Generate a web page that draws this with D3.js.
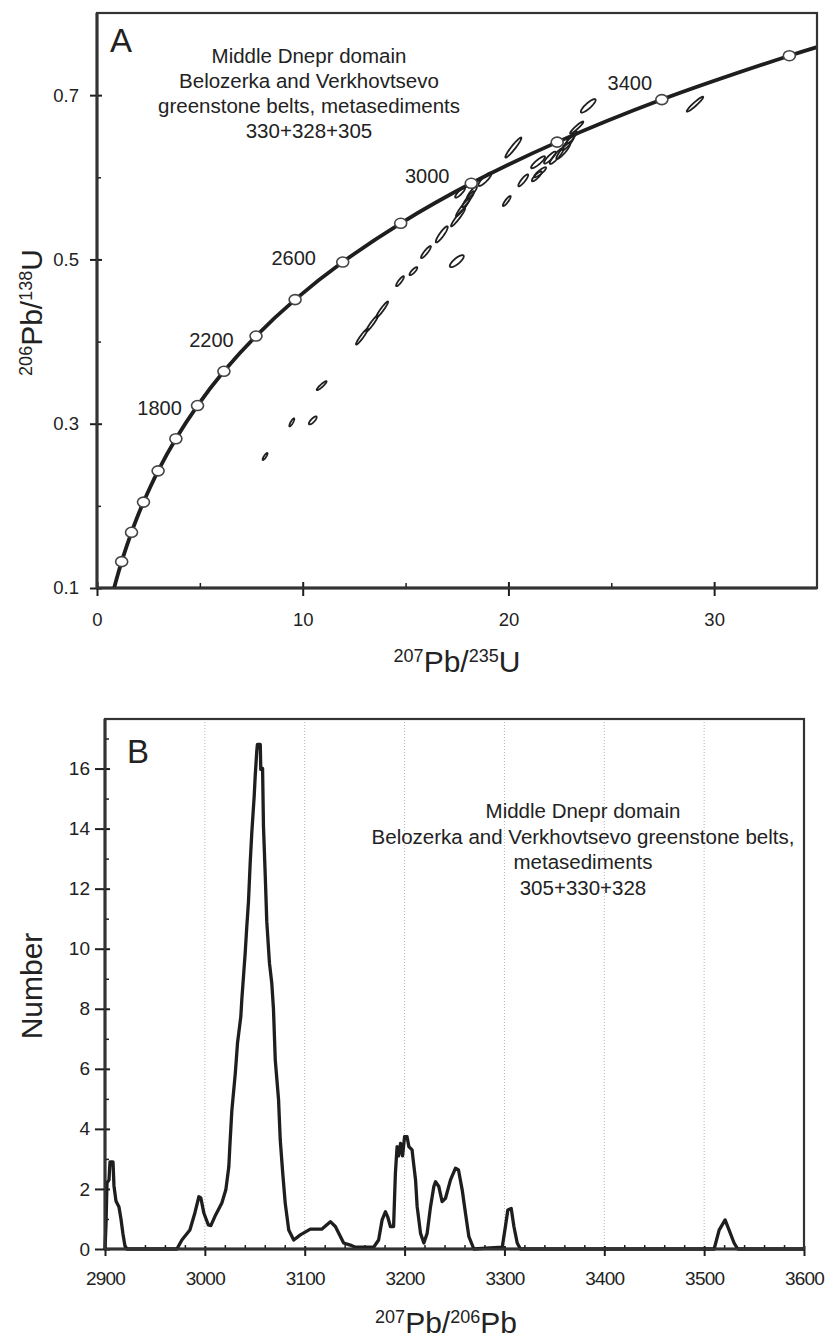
<!DOCTYPE html>
<html><head><meta charset="utf-8">
<script src="https://cdn.jsdelivr.net/npm/d3@7"></script>
<style>
body{margin:0;background:#fff}
svg{display:block}
text{font-family:"Liberation Sans",Arial,Helvetica,sans-serif;fill:#222}
</style>
</head><body>
<svg id="chart" width="828" height="1338"></svg>
<script>
// ---------- Panel A data: concordia ----------
const concordiaAge = [614, 700, 800, 900, 1000, 1100, 1200, 1400, 1600, 1800, 2000, 2200, 2400, 2600, 2800, 3000, 3200, 3400, 3600, 3639];
const concordiaX = [0.831, 0.9928, 1.1987, 1.4264, 1.6774, 1.9545, 2.2603, 2.9701, 3.8344, 4.8869, 6.1688, 7.7298, 9.6305, 11.9446, 14.7626, 18.1930, 22.3706, 27.4560, 33.6560, 35.0];
const concordiaY = [0.1000, 0.1147, 0.1321, 0.1498, 0.1678, 0.1861, 0.2046, 0.2426, 0.2817, 0.3221, 0.3638, 0.4067, 0.4511, 0.4968, 0.5440, 0.5927, 0.6428, 0.6946, 0.7480, 0.7585];
const markerAges = [800, 1000, 1200, 1400, 1600, 1800, 2000, 2200, 2400, 2600, 2800, 3000, 3200, 3400, 3600];
const labelAges = [1800, 2200, 2600, 3000, 3400];

// ---------- Panel A data: analysis error ellipses ----------
const ellX   = [8.17, 9.47, 10.49, 10.92, 12.88, 13.37, 13.86, 14.73, 15.38, 15.99, 16.76, 17.49, 17.55, 17.79, 18.04, 18.23, 17.65, 18.86, 19.92, 20.72, 20.24, 21.44, 21.54, 21.38, 22.02, 22.35, 22.67, 22.90, 23.08, 23.32, 23.88, 29.07];
const ellY   = [0.2601, 0.3016, 0.3040, 0.3463, 0.4061, 0.4220, 0.4390, 0.4735, 0.4857, 0.5089, 0.5305, 0.4979, 0.5512, 0.5634, 0.5732, 0.5817, 0.5813, 0.5976, 0.5711, 0.5963, 0.6362, 0.6183, 0.6061, 0.6012, 0.6240, 0.6260, 0.6321, 0.6415, 0.6488, 0.6606, 0.6870, 0.6890];
const ellSx  = [0.12, 0.12, 0.19, 0.24, 0.29, 0.29, 0.29, 0.19, 0.19, 0.24, 0.29, 0.34, 0.34, 0.34, 0.29, 0.24, 0.24, 0.32, 0.19, 0.24, 0.39, 0.34, 0.29, 0.24, 0.29, 0.34, 0.34, 0.29, 0.24, 0.32, 0.36, 0.40];
const ellSy  = [0.0043, 0.0049, 0.0049, 0.0055, 0.0098, 0.0098, 0.0098, 0.0061, 0.0049, 0.0073, 0.0098, 0.0073, 0.0110, 0.0110, 0.0098, 0.0073, 0.0061, 0.0082, 0.0061, 0.0073, 0.0122, 0.0073, 0.0061, 0.0061, 0.0073, 0.0098, 0.0098, 0.0085, 0.0073, 0.0073, 0.0082, 0.0091];
const ellRho = [0.85, 0.85, 0.80, 0.92, 0.95, 0.95, 0.95, 0.88, 0.84, 0.90, 0.90, 0.80, 0.95, 0.95, 0.93, 0.90, 0.86, 0.86, 0.88, 0.88, 0.95, 0.88, 0.88, 0.86, 0.88, 0.90, 0.90, 0.90, 0.88, 0.94, 0.86, 0.95];

const axisAxTicks = [0, 10, 20, 30];
const axisAxMinor = [5, 15, 25];
const axisAyTicks = [0.1, 0.3, 0.5, 0.7];
const axisAyMinor = [0.2, 0.4, 0.6];
const annotA = ["Middle Dnepr domain", "Belozerka and Verkhovtsevo", "greenstone belts, metasediments", "330+328+305"];

// ---------- Panel B data: probability density ----------
const ageB = [2900, 2901, 2902, 2904, 2905, 2908, 2909, 2911, 2914, 2916, 2918, 2920, 2922,
  2972, 2977, 2985, 2990, 2994, 2996, 2999, 3003.5, 3006, 3010, 3017, 3021, 3024, 3025, 3027, 3030.5, 3032.7, 3036, 3037,
  3040.4, 3042, 3043.7, 3045.4, 3047, 3049.4, 3050.4, 3052, 3052.6, 3055.5, 3056, 3057.8, 3058.7, 3060.5, 3062, 3064.7, 3067, 3068.7,
  3070.5, 3073.8, 3075.5, 3078, 3080.5, 3084, 3089, 3095.6, 3105.6, 3117, 3125.7, 3130.7, 3139, 3145.7, 3150.8, 3169,
  3174, 3177.5, 3180.8, 3183, 3185.8, 3189, 3190.8, 3192.5, 3194, 3196, 3198, 3200, 3202.5, 3204.3, 3207.5, 3209, 3211, 3212.6,
  3216, 3219.3, 3222.6, 3226, 3229.3, 3231, 3234.3, 3237.6, 3241, 3246, 3251, 3254, 3257.7, 3261, 3264.4, 3269.4,
  3297.8, 3301, 3303.4, 3306.8, 3309.5, 3312.8, 3316,
  3510, 3515, 3521, 3525, 3530, 3533.6, 3600];
const countB = [0, 0.8, 2.2, 2.3, 2.9, 2.9, 2.1, 1.6, 1.4, 1.0, 0.5, 0.1, 0,
  0, 0.3, 0.63, 1.2, 1.74, 1.7, 1.2, 0.8, 0.78, 1.08, 1.53, 1.97, 2.74, 3.41, 4.6, 5.86, 6.86, 7.74, 8.3,
  9.86, 10.74, 11.58, 12.86, 13.86, 15.08, 15.74, 16.58, 16.8, 16.8, 15.97, 16.0, 14.08, 12.41, 10.91, 9.52, 8.86, 8.0,
  6.3, 4.97, 3.63, 2.52, 1.52, 0.63, 0.3, 0.47, 0.66, 0.66, 0.91, 0.75, 0.2, 0.13, 0.06, 0.06,
  0.3, 0.97, 1.24, 1.08, 0.75, 0.75, 2.52, 3.41, 3.1, 3.52, 3.1, 3.74, 3.74, 3.41, 3.3, 2.86, 2.3, 1.41,
  0.52, 0.2, 0.52, 1.41, 2.08, 2.24, 2.08, 1.58, 1.69, 2.3, 2.69, 2.63, 1.97, 1.19, 0.41, 0,
  0.06, 0.75, 1.3, 1.35, 0.75, 0.2, 0,
  0, 0.63, 0.97, 0.63, 0.2, 0, 0];
const axisBxTicks = [2900, 3000, 3100, 3200, 3300, 3400, 3500, 3600];
const axisBxMinor = d3.range(2920, 3600, 20).filter(v => v % 100 !== 0);
const axisByTicks = [0, 2, 4, 6, 8, 10, 12, 14, 16];
const axisByMinor = [1, 3, 5, 7, 9, 11, 13, 15, 17];
const gridB = [3000, 3100, 3200, 3300, 3400, 3500];
const annotB = ["Middle Dnepr domain", "Belozerka and Verkhovtsevo greenstone belts,", "metasediments", "305+330+328"];

// ---------- layout ----------
const svg = d3.select("#chart");
const INK = "#1e1e1e";
const A = {l: 97, r: 817, t: 13, b: 588};
const B = {l: 105, r: 804, t: 719, b: 1249};
const xA = d3.scaleLinear().domain([0, 35]).range([A.l, A.r]);
const yA = d3.scaleLinear().domain([0.1, 0.8]).range([A.b, A.t]);
const xB = d3.scaleLinear().domain([2900, 3600]).range([B.l, B.r]);
const yB = d3.scaleLinear().domain([0, 17.65]).range([B.b, B.t]);

function frame(P) {
  svg.append("rect").attr("x", P.l).attr("y", P.t).attr("width", P.r - P.l).attr("height", P.b - P.t)
    .attr("fill", "none").attr("stroke", "#333").attr("stroke-width", 2.2);
}

function supText(t, parts, big, small, rise) {
  let prevSup = false;
  parts.forEach(([s, sup]) => {
    const ts = t.append("tspan").text(s).attr("font-size", sup ? small : big);
    if (sup && !prevSup) ts.attr("dy", -rise);
    if (!sup && prevSup) ts.attr("dy", rise);
    prevSup = sup;
  });
}

// ================= Panel A =================
const gA = svg.append("g");
frame(A);

const axAx = gA.append("g").attr("transform", `translate(0,${A.b})`)
  .call(d3.axisBottom(xA).tickValues(axisAxTicks).tickSize(8).tickPadding(17).tickFormat(d3.format("d")));
axAx.selectAll("line").attr("y1", -6).attr("stroke", INK).attr("stroke-width", 2);
const axAxm = gA.append("g").attr("transform", `translate(0,${A.b})`)
  .call(d3.axisBottom(xA).tickValues(axisAxMinor).tickSize(-5).tickFormat(""));
axAxm.selectAll("line").attr("stroke", INK).attr("stroke-width", 1.5);

const axAy = gA.append("g").attr("transform", `translate(${A.l},0)`)
  .call(d3.axisLeft(yA).tickValues(axisAyTicks).tickSize(7).tickPadding(11).tickFormat(d3.format(".1f")));
axAy.selectAll("line").attr("x1", 5).attr("stroke", INK).attr("stroke-width", 2);
const axAym = gA.append("g").attr("transform", `translate(${A.l},0)`)
  .call(d3.axisLeft(yA).tickValues(axisAyMinor).tickSize(-4).tickFormat(""));
axAym.selectAll("line").attr("stroke", INK).attr("stroke-width", 1.5);

[axAx, axAxm, axAy, axAym].forEach(a => { a.select(".domain").remove(); a.selectAll("text").attr("font-size", 18.5).attr("fill", "#222").attr("font-family", "Liberation Sans, Arial, sans-serif"); });

gA.append("line").attr("x1", A.l).attr("x2", A.l).attr("y1", A.t).attr("y2", A.b + 1).attr("stroke", INK).attr("stroke-width", 3);
gA.append("line").attr("x1", A.l - 1).attr("x2", A.r).attr("y1", A.b).attr("y2", A.b).attr("stroke", INK).attr("stroke-width", 3);

// concordia curve
const conc = concordiaAge.map((a, i) => ({age: a, x: concordiaX[i], y: concordiaY[i]}));
gA.append("path").datum(conc)
  .attr("d", d3.line().x(d => xA(d.x)).y(d => yA(d.y)).curve(d3.curveCatmullRom))
  .attr("fill", "none").attr("stroke", INK).attr("stroke-width", 3.8).attr("stroke-linejoin", "round");

// error ellipses
const ts = d3.range(0, 2 * Math.PI + 0.001, Math.PI / 30);
const ells = ellX.map((x, i) => ({x, y: ellY[i], sx: ellSx[i], sy: ellSy[i], r: ellRho[i]}));
gA.append("g").selectAll("path").data(ells).join("path")
  .attr("d", e => d3.line()(ts.map(t => [
      xA(e.x + e.sx * Math.cos(t)),
      yA(e.y + e.sy * (e.r * Math.cos(t) + Math.sqrt(1 - e.r * e.r) * Math.sin(t)))
    ])) + "Z")
  .attr("fill", "none").attr("stroke", INK).attr("stroke-width", 1.8);

// age markers
const markers = conc.filter(d => markerAges.includes(d.age));
gA.append("g").selectAll("ellipse").data(markers).join("ellipse")
  .attr("cx", d => xA(d.x)).attr("cy", d => yA(d.y))
  .attr("rx", 6).attr("ry", 5)
  .attr("fill", "#fff").attr("stroke", "#444").attr("stroke-width", 1.6);

// age labels
const labelOffset = {1800: [-38, 2], 2200: [-44.5, 3.4], 2600: [-49, -4.6], 3000: [-44, -8], 3400: [-32, -17]};
gA.append("g").selectAll("text").data(conc.filter(d => labelAges.includes(d.age))).join("text")
  .attr("x", d => xA(d.x) + labelOffset[d.age][0])
  .attr("y", d => yA(d.y) + labelOffset[d.age][1] + 7.3)
  .attr("text-anchor", "middle").attr("font-size", 20)
  .text(d => d.age);

gA.append("text").attr("x", 110).attr("y", 52).attr("font-size", 33).text("A");
gA.append("g").selectAll("text").data(annotA).join("text")
  .attr("x", 309).attr("y", (d, i) => 63 + i * 25)
  .attr("text-anchor", "middle").attr("font-size", 20.5).text(d => d);

const tAx = gA.append("text").attr("x", 457).attr("y", 672).attr("text-anchor", "middle");
supText(tAx, [["207", true], ["Pb/", false], ["235", true], ["U", false]], 30, 18, 10);
const tAy = gA.append("text").attr("transform", `translate(42,${(A.t + A.b) / 2 + 12}) rotate(-90)`).attr("text-anchor", "middle");
supText(tAy, [["206", true], ["Pb/", false], ["138", true], ["U", false]], 30, 18, 10);

// ================= Panel B =================
const gB = svg.append("g");

gB.append("g").selectAll("line").data(gridB).join("line")
  .attr("x1", d => xB(d)).attr("x2", d => xB(d)).attr("y1", B.t).attr("y2", B.b)
  .attr("stroke", "#aaa").attr("stroke-width", 0.9).attr("stroke-dasharray", "1,2");

frame(B);

const bxMaj = gB.append("g").attr("transform", `translate(0,${B.b})`)
  .call(d3.axisBottom(xB).tickValues(axisBxTicks).tickSize(7).tickPadding(16).tickFormat(d3.format("d")));
bxMaj.selectAll("line").attr("y1", -3).attr("stroke", INK).attr("stroke-width", 2);
const bxMin = gB.append("g").attr("transform", `translate(0,${B.b})`)
  .call(d3.axisBottom(xB).tickValues(axisBxMinor).tickSize(-4).tickFormat(""));
bxMin.selectAll("line").attr("stroke", INK).attr("stroke-width", 1.5);
const byMaj = gB.append("g").attr("transform", `translate(${B.l},0)`)
  .call(d3.axisLeft(yB).tickValues(axisByTicks).tickSize(10).tickPadding(5).tickFormat(d3.format("d")));
byMaj.selectAll("line").attr("x1", 5).attr("stroke", INK).attr("stroke-width", 2);
const byMin = gB.append("g").attr("transform", `translate(${B.l},0)`)
  .call(d3.axisLeft(yB).tickValues(axisByMinor).tickSize(-4).tickFormat(""));
byMin.selectAll("line").attr("stroke", INK).attr("stroke-width", 1.5);
[bxMaj, bxMin, byMaj, byMin].forEach(a => { a.select(".domain").remove(); a.selectAll("text").attr("font-size", 19).attr("fill", "#222").attr("font-family", "Liberation Sans, Arial, sans-serif"); });
bxMaj.selectAll("text").attr("letter-spacing", -0.8);

gB.append("line").attr("x1", B.l).attr("x2", B.l).attr("y1", B.t).attr("y2", B.b + 1).attr("stroke", INK).attr("stroke-width", 3);
gB.append("line").attr("x1", B.l - 1).attr("x2", B.r).attr("y1", B.b).attr("y2", B.b).attr("stroke", INK).attr("stroke-width", 3);

const dens = ageB.map((a, i) => ({a, c: countB[i]}));
gB.append("path").datum(dens)
  .attr("d", d3.line().x(d => xB(d.a)).y(d => yB(d.c)))
  .attr("fill", "none").attr("stroke", INK).attr("stroke-width", 3.3).attr("stroke-linejoin", "round");

gB.append("text").attr("x", 127).attr("y", 763).attr("font-size", 33).text("B");
gB.append("g").selectAll("text").data(annotB).join("text")
  .attr("x", 583).attr("y", (d, i) => 818 + i * 25.6)
  .attr("text-anchor", "middle").attr("font-size", 20.5).text(d => d);

const tBx = gB.append("text").attr("x", 446).attr("y", 1333).attr("text-anchor", "middle");
supText(tBx, [["207", true], ["Pb/", false], ["206", true], ["Pb", false]], 30, 18, 10);
gB.append("text").attr("transform", `translate(42,${(B.t + B.b) / 2 + 2}) rotate(-90)`)
  .attr("text-anchor", "middle").attr("font-size", 30).text("Number");
</script>
</body></html>
